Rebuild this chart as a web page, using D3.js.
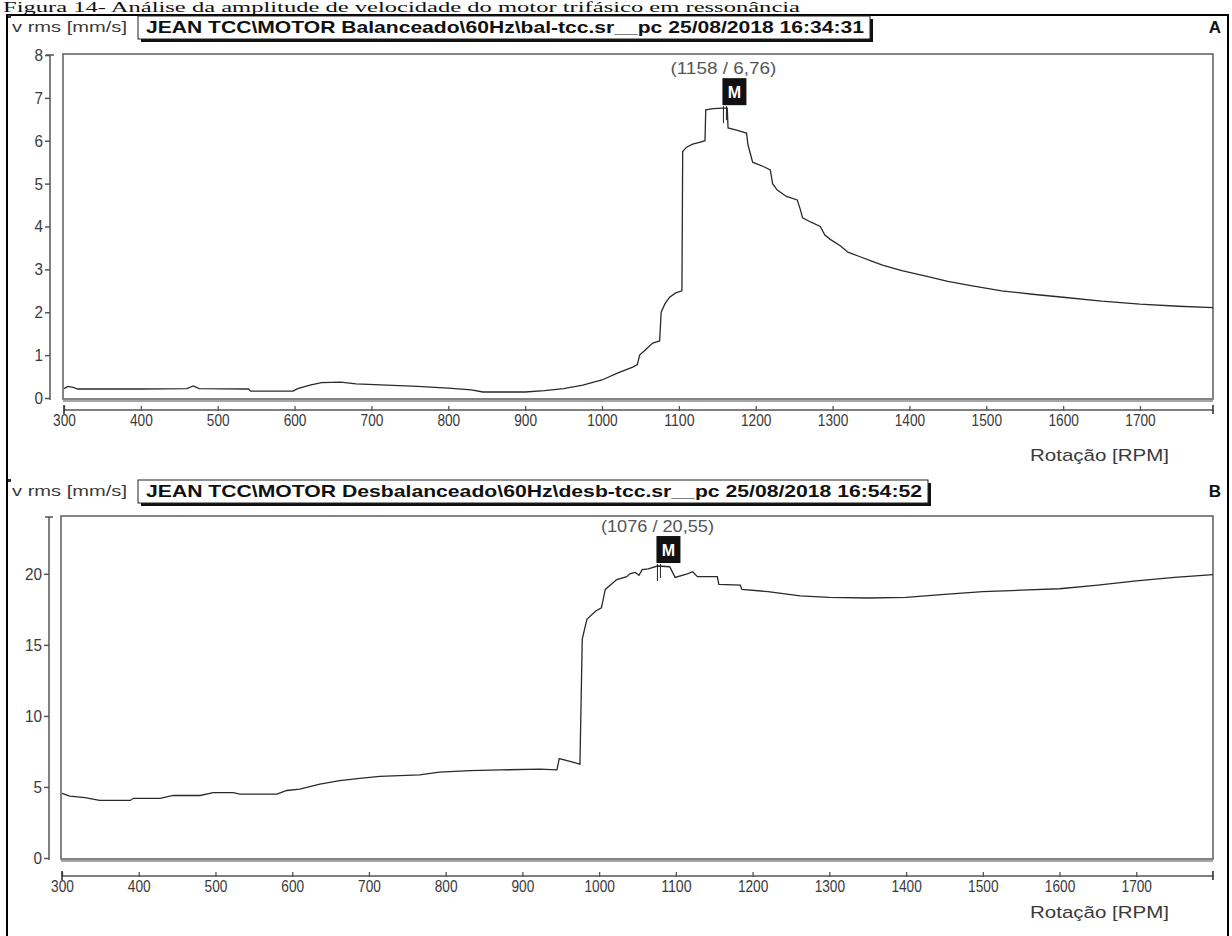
<!DOCTYPE html>
<html><head><meta charset="utf-8">
<script src="https://cdn.jsdelivr.net/npm/d3@7"></script>
<style>
html,body{margin:0;padding:0;background:#fff;}
svg{display:block;}
</style></head>
<body>
<svg id="chart" width="1232" height="936"></svg>
<script>
// ---------- DATA ----------
const caption = "Figura 14- Análise da amplitude de velocidade do motor trifásico em ressonância";
const yUnit = "v rms [mm/s]";
const xUnit = "Rotação  [RPM]";
const titleA = "JEAN TCC\\MOTOR Balanceado\\60Hz\\bal-tcc.sr__pc 25/08/2018 16:34:31";
const titleB = "JEAN TCC\\MOTOR Desbalanceado\\60Hz\\desb-tcc.sr__pc 25/08/2018 16:54:52";
const panelLetters = ["A", "B"];
const xTicks = [300,400,500,600,700,800,900,1000,1100,1200,1300,1400,1500,1600,1700];
const yTicksA = [0,1,2,3,4,5,6,7,8];
const yTicksB = [0,5,10,15,20];

const rpmA = [300,305,312,318,400,460,468,476,540,543,598,604,620,635,660,680,720,760,800,830,845,900,925,950,975,1000,1020,1040,1046,1049,1058,1066,1075,1077,1082,1088,1096,1104,1105,1110,1118,1128,1134,1135,1145,1157,1163,1164,1175,1188,1190,1196,1210,1219,1222,1228,1240,1254,1258,1261,1272,1284,1290,1297,1310,1320,1335,1350,1365,1390,1420,1450,1480,1520,1560,1600,1650,1700,1750,1795];
const velA = [0.22,0.27,0.25,0.21,0.21,0.22,0.28,0.22,0.21,0.16,0.16,0.22,0.30,0.36,0.37,0.33,0.30,0.27,0.23,0.19,0.14,0.14,0.17,0.22,0.30,0.42,0.58,0.72,0.78,1.00,1.15,1.28,1.33,2.00,2.20,2.35,2.45,2.50,5.75,5.85,5.92,5.97,6.00,6.72,6.75,6.76,6.76,6.30,6.25,6.18,5.90,5.50,5.40,5.32,5.00,4.85,4.70,4.62,4.40,4.20,4.10,4.00,3.80,3.70,3.55,3.40,3.30,3.20,3.10,2.97,2.85,2.72,2.62,2.50,2.42,2.35,2.26,2.19,2.14,2.11];

const rpmB = [300,310,330,349,389,393,428,445,480,497,523,532,580,593,610,636,662,688,714,766,792,832,871,923,945,948,962,975,978,984,996,1003,1008,1023,1036,1040,1047,1052,1056,1064,1076,1092,1099,1115,1122,1128,1154,1156,1184,1186,1220,1262,1300,1350,1400,1450,1500,1550,1600,1650,1700,1750,1800];
const velB = [4.55,4.35,4.25,4.05,4.05,4.20,4.20,4.40,4.40,4.60,4.60,4.50,4.50,4.75,4.85,5.20,5.45,5.60,5.75,5.85,6.05,6.15,6.20,6.25,6.20,7.00,6.80,6.60,15.40,16.80,17.40,17.60,18.90,19.60,19.80,20.00,20.10,19.90,20.30,20.35,20.55,20.50,19.75,20.00,20.15,19.80,19.80,19.25,19.20,18.90,18.75,18.45,18.35,18.30,18.35,18.55,18.75,18.85,18.95,19.20,19.50,19.75,19.95];

const markerA = {rpm: 1158, v: 6.76};
const markerB = {rpm: 1076, v: 20.55};

// ---------- DRAW ----------
const svg = d3.select("#chart");
const sans = "'Liberation Sans',Arial,sans-serif";
const axisCol = "#555";
const textCol = "#3a3a3a";

// caption
svg.append("text").attr("x", 3).attr("y", 12)
  .attr("font-family", "'Liberation Serif','Times New Roman',serif")
  .attr("font-size", 15).attr("fill", "#111")
  .attr("textLength", 797).attr("lengthAdjust", "spacingAndGlyphs")
  .text(caption);

// outer frame
svg.append("path").attr("d", "M7,936 V15 H1228 V936")
  .attr("fill", "none").attr("stroke", "#000").attr("stroke-width", 2);

function panel(cfg){
  const g = svg.append("g");
  const x = d3.scaleLinear().domain(cfg.xDomain).range([cfg.x0, 1213]);
  const y = d3.scaleLinear().domain(cfg.yDomain).range([cfg.yZero, cfg.yTop]);

  // header
  g.append("rect").attr("x", 8).attr("y", cfg.headY - 12).attr("width", 3).attr("height", 3).attr("fill", "#333");
  g.append("text").attr("x", 12).attr("y", cfg.headY + 5)
    .attr("font-family", sans).attr("font-size", 15).attr("fill", textCol)
    .attr("textLength", 115).attr("lengthAdjust", "spacingAndGlyphs")
    .text(yUnit);
  g.append("rect").attr("x", 141).attr("y", cfg.headY - 8).attr("width", cfg.boxW).attr("height", 23).attr("fill", "#111");
  g.append("rect").attr("x", 138).attr("y", cfg.headY - 11).attr("width", cfg.boxW).attr("height", 23)
    .attr("fill", "#fff").attr("stroke", "#222").attr("stroke-width", 1);
  g.append("text").attr("x", 146).attr("y", cfg.headY + 6)
    .attr("font-family", sans).attr("font-weight", "bold").attr("font-size", 17).attr("fill", "#111")
    .attr("textLength", cfg.boxW - 14).attr("lengthAdjust", "spacingAndGlyphs")
    .text(cfg.title);
  g.append("text").attr("x", 1215).attr("y", cfg.headY + 6).attr("text-anchor", "middle")
    .attr("font-family", sans).attr("font-weight", "bold")
    .attr("font-size", 17).attr("fill", "#111").text(cfg.letter);

  // plot box
  const boxTop = cfg.yTop - 1, boxBot = cfg.yZero + 1;
  g.append("rect").attr("x", cfg.x0 - 1).attr("y", boxTop).attr("width", 1213 - cfg.x0 + 1).attr("height", boxBot - boxTop)
    .attr("fill", "#fff").attr("stroke", "#666").attr("stroke-width", 1.6);
  g.append("line").attr("x1", cfg.x0 - 1).attr("x2", 1213).attr("y1", boxBot + 2).attr("y2", boxBot + 2)
    .attr("stroke", "#888").attr("stroke-width", 1.4);

  // y axis
  const yAx = g.append("g").attr("transform", `translate(${cfg.yAxisX},0)`)
    .call(d3.axisLeft(y).tickValues(cfg.yTicks).tickSize(5).tickPadding(2).tickFormat(d3.format("d")));
  yAx.select(".domain").attr("d", `M0,${cfg.yZero + 2}V${cfg.yTop}`).attr("stroke", axisCol).attr("stroke-width", 1.5);
  yAx.selectAll(".tick line").attr("stroke", axisCol).attr("stroke-width", 1.5);
  yAx.selectAll(".tick text").attr("font-family", sans).attr("font-size", 17).attr("fill", textCol)
    .attr("textLength", d => String(d).length * 8.5).attr("lengthAdjust", "spacingAndGlyphs");
  g.append("line").attr("x1", cfg.yAxisX - 4).attr("x2", cfg.yAxisX + 4).attr("y1", cfg.yTop).attr("y2", cfg.yTop)
    .attr("stroke", axisCol).attr("stroke-width", 1.5);

  // x axis
  const xAx = g.append("g").attr("transform", `translate(0,${cfg.xAxisY})`)
    .call(d3.axisBottom(x).tickValues(xTicks).tickSize(0).tickPadding(4).tickFormat(d3.format("d")));
  xAx.select(".domain").attr("d", `M${x.range()[0]},0H1213`).attr("stroke", axisCol).attr("stroke-width", 1.5);
  xAx.selectAll(".tick text").attr("font-family", sans).attr("font-size", 17).attr("fill", textCol)
    .attr("textLength", d => String(d).length * 7.6).attr("lengthAdjust", "spacingAndGlyphs");
  xAx.selectAll(".tick").append("line").attr("y1", -4).attr("y2", 1).attr("stroke", axisCol).attr("stroke-width", 1.3);
  [x.range()[0], 1213].forEach(px => {
    g.append("line").attr("x1", px).attr("x2", px).attr("y1", cfg.xAxisY - 5).attr("y2", cfg.xAxisY + 4)
      .attr("stroke", "#333").attr("stroke-width", 1.6);
  });
  g.append("text").attr("x", 1030).attr("y", cfg.xAxisY + cfg.unitDy)
    .attr("font-family", sans).attr("font-size", 17).attr("fill", textCol)
    .attr("textLength", 139).attr("lengthAdjust", "spacingAndGlyphs").text(xUnit);

  // curve
  const pts = cfg.rpm.map((r, i) => [r, cfg.vel[i]]);
  g.append("path").datum(pts)
    .attr("d", d3.line().x(d => x(d[0])).y(d => y(d[1])))
    .attr("fill", "none").attr("stroke", "#2a2a2a").attr("stroke-width", 1.3);

  // marker
  const mx = x(cfg.marker.rpm), my = y(cfg.marker.v);
  g.append("line").attr("x1", mx).attr("x2", mx).attr("y1", my - 2).attr("y2", my + 15)
    .attr("stroke", "#222").attr("stroke-width", 1);
  g.append("line").attr("x1", mx + 3).attr("x2", mx + 3).attr("y1", my - 2).attr("y2", my + 12)
    .attr("stroke", "#222").attr("stroke-width", 1);
  g.append("rect").attr("x", mx - 1).attr("y", my - 30).attr("width", 24).attr("height", 27).attr("fill", "#111");
  g.append("text").attr("x", mx + 11).attr("y", my - 10).attr("text-anchor", "middle")
    .attr("font-family", sans).attr("font-weight", "bold").attr("font-size", 16).attr("fill", "#fff").text("M");
  g.append("text").attr("x", mx).attr("y", my - 34).attr("text-anchor", "middle")
    .attr("font-family", sans).attr("font-size", 16).attr("fill", "#555")
    .attr("textLength", cfg.markLen).attr("lengthAdjust", "spacingAndGlyphs")
    .text(`(${cfg.marker.rpm} / ${String(cfg.marker.v).replace(".", ",")})`);
}

panel({headY: 27, title: titleA, boxW: 732, letter: panelLetters[0],
  xDomain: [300, 1795], x0: 64, yDomain: [0, 8], yZero: 398, yTop: 55, yAxisX: 50, yTicks: yTicksA,
  xAxisY: 410, unitDy: 51, markLen: 106, rpm: rpmA, vel: velA, marker: markerA});
panel({headY: 491, title: titleB, boxW: 790, letter: panelLetters[1],
  xDomain: [300, 1800], x0: 62, yDomain: [0, 24], yZero: 858, yTop: 517, yAxisX: 49, yTicks: yTicksB,
  xAxisY: 876, unitDy: 42, markLen: 113, rpm: rpmB, vel: velB, marker: markerB});
</script>
</body></html>
